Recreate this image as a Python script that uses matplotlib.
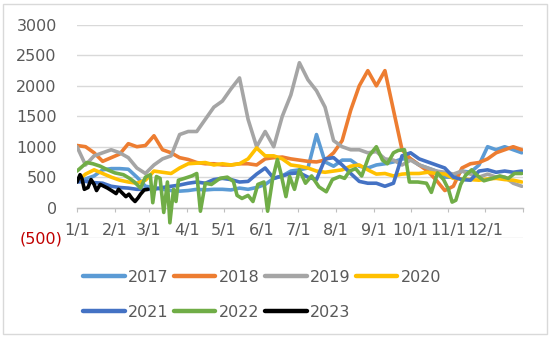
import numpy as np
import matplotlib
matplotlib.use("Agg")
import matplotlib.pyplot as plt
from matplotlib.patches import Rectangle
from matplotlib.lines import Line2D
import matplotlib.transforms as mtransforms

# ---------------- data ----------------
week_days = np.arange(0, 365, 7)  # weekly sample positions (day of year)

v2017 = [430, 470, 520, 620, 640, 640, 630, 500, 350, 330, 300, 280, 270, 280, 300, 290, 300, 300, 290, 320,
         300, 330, 380, 480, 520, 600, 620, 650, 1200, 750, 680, 780, 780, 680, 650, 700, 720, 750, 800, 800,
         700, 650, 600, 500, 500, 600, 580, 700, 1000, 950, 1000, 950, 900]
v2018 = [1020, 1000, 900, 760, 820, 880, 1050, 1000, 1020, 1180, 950, 900, 820, 790, 740, 720, 720, 700, 700, 720,
         720, 700, 800, 820, 830, 800, 780, 760, 750, 780, 900, 1100, 1600, 2000, 2250, 2000, 2250, 1600, 950, 800,
         700, 600, 450, 280, 350, 650, 720, 740, 800, 900, 950, 1000, 950]
v2019 = [1000, 700, 850, 900, 950, 900, 820, 650, 560, 700, 800, 850, 1200, 1250, 1250, 1450, 1650, 1750, 1950, 2130,
         1450, 1000, 1250, 1000, 1500, 1850, 2380, 2100, 1920, 1650, 1100, 1000, 950, 950, 900, 920, 800, 780, 700, 780,
         700, 650, 600, 580, 550, 600, 550, 500, 550, 500, 500, 400, 350]
v2020 = [430, 550, 620, 560, 500, 450, 420, 400, 450, 600, 580, 560, 650, 720, 730, 740, 700, 720, 700, 720,
         800, 980, 850, 850, 800, 700, 680, 650, 600, 580, 600, 620, 680, 700, 620, 550, 560, 520, 550, 560,
         560, 580, 560, 550, 480, 470, 460, 450, 470, 480, 460, 450, 420]
v2021 = [420, 430, 410, 400, 350, 330, 320, 300, 300, 300, 330, 350, 370, 400, 420, 400, 460, 480, 460, 420,
         430, 550, 650, 480, 520, 560, 570, 500, 460, 800, 820, 700, 560, 430, 400, 400, 350, 400, 850, 900,
         800, 750, 700, 650, 500, 460, 450, 600, 620, 580, 600, 580, 600]

days_2022 = [0, 8, 13, 19, 25, 31, 38, 43, 47, 52, 56, 60, 62, 65, 68, 71, 74, 76, 79, 81,
             83, 88, 94, 98, 101, 105, 110, 117, 123, 128, 131, 135, 140, 144, 148, 153, 156, 160, 164, 167,
             171, 174, 178, 182, 187, 192, 198, 204, 209, 215, 219, 223, 228, 233, 239, 245, 250, 254, 259, 263,
             268, 272, 279, 286, 290, 295, 300, 304, 307, 310, 314, 318, 323, 328, 333, 340, 346, 353, 358, 364]
v2022 = [600, 740, 720, 680, 620, 570, 540, 480, 420, 320, 500, 540, 80, 510, 480, -80, 420, -250, 300, 100,
         450, 480, 520, 560, -60, 400, 380, 480, 500, 430, 200, 150, 200, 100, 380, 420, -60, 460, 790, 550,
         180, 510, 300, 620, 400, 520, 340, 260, 460, 510, 480, 600, 640, 520, 850, 1000, 780, 720, 900, 940,
         950, 420, 420, 400, 250, 570, 460, 300, 90, 120, 380, 530, 620, 520, 440, 480, 520, 480, 560, 560]

days_2023 = [0, 2.5, 4, 6, 9, 11.5, 14, 16, 19, 22, 25, 29, 32, 34, 38, 40, 42.5, 45, 47.5, 50, 52, 55, 58]
v2023 = [420, 540, 480, 300, 330, 460, 380, 280, 380, 350, 320, 270, 230, 300, 220, 180, 220, 150, 100, 160,
         220, 290, 300]

month_days = [0, 31, 59, 90, 120, 151, 181, 212, 243, 273, 304, 334]
month_labels = ["1/1", "2/1", "3/1", "4/1", "5/1", "6/1", "7/1", "8/1", "9/1", "10/1", "11/1", "12/1"]
y_ticks = [0, 500, 1000, 1500, 2000, 2500, 3000]
y_labels = ["0", "500", "1000", "1500", "2000", "2500", "3000"]
neg_tick = -500
neg_label = "(500)"

series = [
    ("2017", week_days, v2017, "#5B9BD5"),
    ("2018", week_days, v2018, "#ED7D31"),
    ("2019", week_days, v2019, "#A5A5A5"),
    ("2020", week_days, v2020, "#FFC000"),
    ("2021", week_days, v2021, "#4472C4"),
    ("2022", days_2022, v2022, "#70AD47"),
    ("2023", days_2023, v2023, "#000000"),
]

# ---------------- figure ----------------
plt.rcParams['font.family'] = ['DejaVu Sans']
W, H = 550, 338
fig = plt.figure(figsize=(W / 100, H / 100), dpi=100)
ax = fig.add_axes([77 / W, 1 - 238 / H, (523 - 77) / W, (238 - 25) / H])

txt_col = "#595959"
fs = 11.5

handles = {}
for i, (name, xs, ys, col) in enumerate(series):
    ax.plot(xs, ys, color=col, lw=2.6, solid_joinstyle='round', solid_capstyle='round',
            zorder=3 + i, label=name)
    handles[name] = Line2D([], [], color=col, lw=3.2, solid_capstyle='round')

ax.set_xlim(0, 365)
ax.set_ylim(-500, 3000)

ax.set_yticks([neg_tick] + y_ticks)
ax.set_yticklabels([""] + y_labels)
ax.yaxis.grid(True, color="#D9D9D9", lw=1)
ax.set_axisbelow(True)
ax.tick_params(axis='y', length=0, pad=14.5, labelsize=fs, labelcolor=txt_col)

ax.set_xticks(month_days)
ax.set_xticklabels(month_labels)
ax.set_xticks([365], minor=True)
ax.tick_params(axis='x', which='both', direction='out', length=3, width=0.8, color="#BFBFBF",
               pad=8, labelsize=fs, labelcolor=txt_col)

for s in ['top', 'right', 'left']:
    ax.spines[s].set_visible(False)
ax.spines['bottom'].set_position(('data', 0))
ax.spines['bottom'].set_color("#BFBFBF")
ax.spines['bottom'].set_linewidth(1)

off = mtransforms.ScaledTranslation(-15 / 100, 0, fig.dpi_scale_trans)
ax.text(0, neg_tick, neg_label, transform=ax.get_yaxis_transform() + off,
        ha='right', va='center_baseline', fontsize=fs, color="#C00000")

order = ["2017", "2021", "2018", "2022", "2019", "2023", "2020"]
leg = fig.legend([handles[k] for k in order], order, loc='upper left',
                 bbox_to_anchor=(83 / W, 1 - 270 / H), ncol=4, frameon=False,
                 fontsize=fs, handlelength=2.6, handletextpad=0.2, columnspacing=0.35,
                 labelspacing=1.25, borderpad=0, borderaxespad=0)
for t in leg.get_texts():
    t.set_color(txt_col)

fig.patches.append(Rectangle((3 / W, 4 / H), 544 / W, 330 / H, transform=fig.transFigure,
                             fill=False, edgecolor="#D9D9D9", lw=1))

fig.savefig("out.png", dpi=100, facecolor="white")
